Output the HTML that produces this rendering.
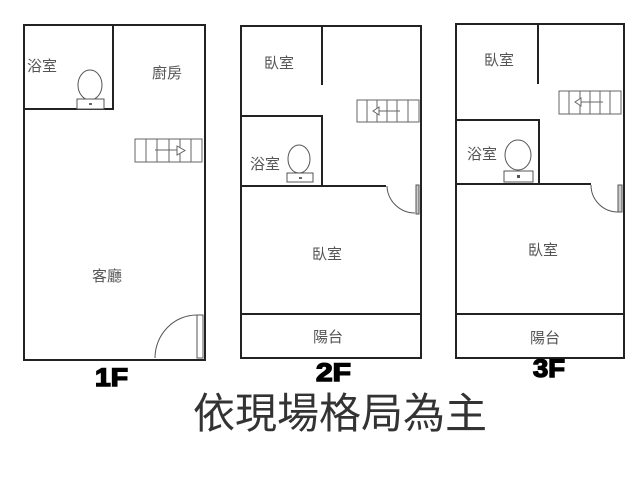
<!DOCTYPE html>
<html><head><meta charset="utf-8"><style>
html,body{margin:0;padding:0;background:#fff;width:640px;height:480px;overflow:hidden}
svg{display:block}
.r{font-family:"Liberation Sans","WenQuanYi Zen Hei","Noto Sans CJK TC",sans-serif;font-size:15px;fill:#555}
.f{font-family:"Liberation Sans",sans-serif;font-weight:700;font-size:25px;fill:#000;stroke:#000;stroke-width:1.4px}
.t{font-family:"Liberation Sans","WenQuanYi Zen Hei","Noto Sans CJK TC",sans-serif;font-size:42px;fill:#333}
.w{fill:none;stroke:#222;stroke-width:2}
.s{fill:none;stroke:#666;stroke-width:1}
.d{fill:none;stroke:#555;stroke-width:1}
</style></head><body>
<svg width="640" height="480" viewBox="0 0 640 480" xmlns="http://www.w3.org/2000/svg">
<rect width="640" height="480" fill="#fff"/>
<!-- 1F -->
<rect class="w" x="24" y="25" width="181" height="335"/>
<path class="w" d="M113 25V109H24"/>
<ellipse class="d" cx="90" cy="85" rx="12" ry="15"/>
<rect class="d" x="77" y="99" width="27" height="10" style="fill:#fff"/>
<rect x="89" y="103" width="3" height="2" fill="#666"/>
<path class="s" d="M135 139H202V162H135ZM146 139V162M157 139V162M169 139V162M180 139V162M191 139V162M155 150H177"/>
<path class="s" d="M177 146L185 150.500L177 155Z" style="fill:#fff"/>
<rect class="d" x="197" y="315" width="6" height="43"/>
<path class="d" d="M197 315A42 43 0 0 0 155 358"/>
<text class="r" x="27" y="71">浴室</text>
<text class="r" x="152" y="78">廚房</text>
<text class="r" x="92" y="281">客廳</text>
<text class="f" x="95" y="386" textLength="33" lengthAdjust="spacingAndGlyphs">1F</text>
<!-- 2F -->
<rect class="w" x="241" y="26" width="180" height="332"/>
<path class="w" d="M322 26V85M241 116H322V186M241 186H386M241 314H421"/>
<ellipse class="d" cx="299" cy="159" rx="11" ry="14"/>
<rect class="d" x="287" y="173" width="26" height="9" style="fill:#fff"/>
<rect x="299" y="177" width="3" height="2" fill="#666"/>
<path class="s" d="M357 100H419V122H357ZM367 100V122M377 100V122M387 100V122M397 100V122M408 100V122M378 111H400"/>
<path class="s" d="M379 107L373 111L379 115Z" style="fill:#fff"/>
<rect class="d" x="416" y="185" width="3" height="29" style="fill:#ccc"/>
<path class="d" d="M387 186A28 28 0 0 0 415 213"/>
<text class="r" x="264" y="68">臥室</text>
<text class="r" x="250" y="169">浴室</text>
<text class="r" x="312" y="259">臥室</text>
<text class="r" x="313" y="342">陽台</text>
<text class="f" x="316" y="381" textLength="35" lengthAdjust="spacingAndGlyphs">2F</text>
<!-- 3F -->
<rect class="w" x="456" y="24" width="168" height="334"/>
<path class="w" d="M538 24V84M456 120H539V184M456 184H591M456 314H624"/>
<ellipse class="d" cx="518" cy="155" rx="13" ry="15"/>
<rect class="d" x="504" y="171" width="29" height="11" style="fill:#fff"/>
<rect x="517" y="175" width="3" height="3" fill="#555"/>
<path class="s" d="M559 91H621V114H559ZM569 91V114M580 91V114M590 91V114M600 91V114M610 91V114M580 102H603"/>
<path class="s" d="M581 98L575 102L581 106Z" style="fill:#fff"/>
<rect class="d" x="618" y="185" width="4" height="27" style="fill:#ccc"/>
<path class="d" d="M591 185A27 27 0 0 0 618 212"/>
<text class="r" x="484" y="65">臥室</text>
<text class="r" x="467" y="159">浴室</text>
<text class="r" x="528" y="255">臥室</text>
<text class="r" x="530" y="343">陽台</text>
<text class="f" x="533" y="377" textLength="32" lengthAdjust="spacingAndGlyphs">3F</text>
<!-- title -->
<text class="t" x="193" y="428">依現場格局為主</text>
</svg>
</body></html>
